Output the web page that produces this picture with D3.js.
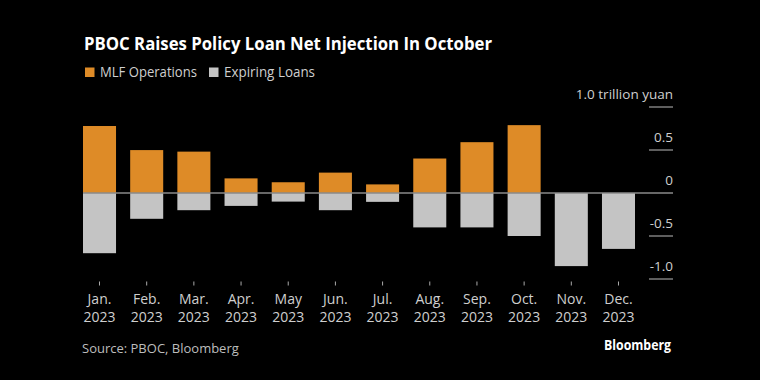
<!DOCTYPE html>
<html><head><meta charset="utf-8">
<script src="https://cdn.jsdelivr.net/npm/d3@7"></script>
<style>
html,body{margin:0;padding:0;background:#000;}
svg{display:block;}
text{font-family:"Open Sans","Noto Sans",sans-serif;}
</style></head>
<body>
<svg id="chart" width="760" height="380"></svg>
<script>
const months = ["Jan.","Feb.","Mar.","Apr.","May","Jun.","Jul.","Aug.","Sep.","Oct.","Nov.","Dec."];
const yearLabels = ["2023","2023","2023","2023","2023","2023","2023","2023","2023","2023","2023","2023"];
const mlfOperations = [0.779, 0.499, 0.481, 0.170, 0.125, 0.237, 0.100, 0.401, 0.591, 0.789, 0, 0];
const expiringLoans = [-0.700, -0.300, -0.200, -0.150, -0.100, -0.200, -0.103, -0.400, -0.400, -0.500, -0.850, -0.650];
const yTicks = [1.0, 0.5, 0, -0.5, -1.0];
const yTickLabels = ["1.0 trillion yuan", "0.5", "0", "-0.5", "-1.0"];
const seriesNames = ["MLF Operations", "Expiring Loans"];
const colors = ["#de8b27", "#c4c4c4"];

const svg = d3.select("#chart");
svg.append("rect").attr("width",760).attr("height",380).attr("fill","#000");

const x = d3.scaleBand().domain(months).range([83, 635]).paddingInner(0.3).paddingOuter(0);
const y = d3.scaleLinear().domain([-1, 1]).range([279, 107]);
const right = 673;

// title
svg.append("text").attr("x", 84).attr("y", 50).attr("fill", "#fff")
  .attr("font-size", 18.5).attr("font-weight", 700)
  .attr("textLength", 408).attr("lengthAdjust", "spacingAndGlyphs")
  .text("PBOC Raises Policy Loan Net Injection In October");

// legend
const legendWidths = [97, 91];
const leg = svg.append("g");
let lx = 85;
seriesNames.forEach((n, i) => {
  leg.append("rect").attr("x", lx).attr("y", 67.5).attr("width", 9.5).attr("height", 9.5).attr("fill", colors[i]);
  leg.append("text").attr("x", lx + 15).attr("y", 77).attr("fill", "#cfcfcf")
    .attr("font-size", 14).attr("textLength", legendWidths[i]).attr("lengthAdjust", "spacingAndGlyphs").text(n);
  lx += 15 + legendWidths[i] + 12;
});

// gridlines + labels
yTicks.forEach((v, i) => {
  if (v !== 0) {
    svg.append("line").attr("x1", 649).attr("x2", right).attr("y1", y(v)).attr("y2", y(v))
      .attr("stroke", "#bbb").attr("stroke-width", 1);
  }
  svg.append("text").attr("x", right).attr("y", y(v) - 8).attr("text-anchor", "end")
    .attr("fill", "#cfcfcf").attr("font-size", 13.5).text(yTickLabels[i]);
});

// bars
svg.append("g").selectAll("rect").data(months).join("rect")
  .attr("x", d => x(d)).attr("width", x.bandwidth())
  .attr("y", (d, i) => y(mlfOperations[i]))
  .attr("height", (d, i) => y(0) - y(mlfOperations[i]))
  .attr("fill", colors[0]);
svg.append("g").selectAll("rect").data(months).join("rect")
  .attr("x", d => x(d)).attr("width", x.bandwidth())
  .attr("y", y(0))
  .attr("height", (d, i) => y(expiringLoans[i]) - y(0))
  .attr("fill", colors[1]);

// zero line
svg.append("line").attr("x1", 83).attr("x2", right).attr("y1", y(0)).attr("y2", y(0))
  .attr("stroke", "#8a8a8a").attr("stroke-width", 1.5);

// x axis
const xAxis = svg.append("g").attr("transform", "translate(0,281.5)")
  .call(d3.axisBottom(x).tickSize(4).tickFormat(""));
xAxis.select(".domain").remove();
xAxis.selectAll(".tick line").attr("stroke", "#aaa");
xAxis.selectAll(".tick text").remove();
xAxis.selectAll(".tick").each(function(d, i) {
  const g = d3.select(this);
  g.append("text").attr("y", 22.5).attr("text-anchor", "middle").attr("fill", "#cfcfcf")
    .attr("font-family", "Lato, sans-serif").attr("font-size", 14).text(months[i]);
  g.append("text").attr("y", 40).attr("text-anchor", "middle").attr("fill", "#cfcfcf")
    .attr("font-family", "Lato, sans-serif").attr("font-size", 14).text(yearLabels[i]);
});

// source
svg.append("text").attr("x", 82).attr("y", 353).attr("fill", "#bdbdbd")
  .attr("font-size", 13).text("Source: PBOC, Bloomberg");
svg.append("text").attr("x", 671).attr("y", 350).attr("text-anchor", "end").attr("fill", "#fff")
  .attr("font-size", 14).attr("font-weight", 700)
  .attr("textLength", 67).attr("lengthAdjust", "spacingAndGlyphs").text("Bloomberg");
</script>
</body></html>
